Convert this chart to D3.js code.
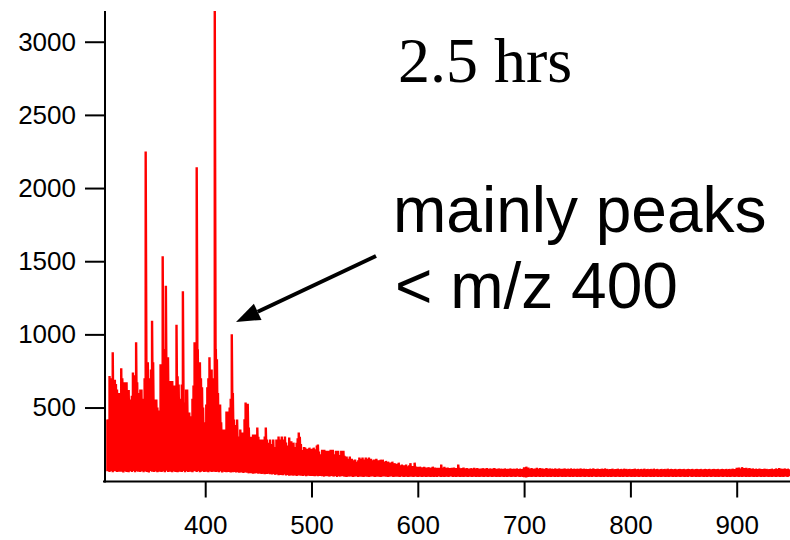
<!DOCTYPE html>
<html><head><meta charset="utf-8">
<script src="https://cdn.jsdelivr.net/npm/d3@7"></script>
<style>body{margin:0;background:#fff}</style>
</head><body><svg id="c" width="790" height="540"></svg>
<script>
const mzStart = 308;
const upper = [
418,420,716,700,650,877,658,690,660,624,578,600,
560,768,700,672,640,672,672,590,620,555,
540,580,740,720,700,946,672,600,544,624,
624,500,560,700,2250,650,810,620,700,760,
1093,810,555,418,555,500,480,453,796,700,
1534,900,820,1333,624,843,650,681,600,681,
600,650,418,1065,713,658,487,560,658,1294,
535,507,624,624,441,466,370,441,560,650,
946,784,2142,898,809,809,700,638,500,400,
370,520,638,700,843,693,760,700,693,3210,
900,830,600,466,520,400,350,302,350,302,
473,418,473,500,560,1001,600,418,350,380,
418,302,302,350,281,330,302,420,535,480,
526,363,281,300,281,315,280,315,250,363,
300,281,281,250,281,260,302,363,281,260,
240,281,250,240,281,212,230,281,260,302,
281,240,302,281,250,302,260,240,212,295,
247,270,233,260,212,230,260,290,330,300,
250,210,200,230,226,210,219,200,226,212,
219,200,226,190,215,240,247,200,180,165,
212,190,212,180,205,190,205,170,212,195,
212,180,160,205,190,205,175,165,205,180,
205,170,160,165,150,140,165,130,150,140,
130,145,130,125,140,158,130,150,158,145,
140,158,150,135,158,130,150,140,130,145,
130,150,125,140,130,144,120,144,130,120,
135,115,130,110,125,115,130,110,120,105,
115,110,123,105,98,110,96,105,100,110,
96,98,105,120,95,100,92,123,96,89,
95,88,96,90,92,86,95,89,90,86,
92,88,85,90,96,84,90,86,88,84,
88,85,110,88,82,95,86,84,90,85,
86,82,88,84,90,82,86,84,110,88,
85,82,86,90,84,80,86,82,84,80,
85,82,84,88,80,84,86,80,82,84,
80,85,82,84,80,86,82,80,84,82,
80,84,86,80,82,78,84,80,82,78,
82,80,84,78,80,82,78,84,80,78,
82,80,78,84,80,78,82,80,78,82,
92,88,96,84,90,82,80,86,78,82,
84,80,88,78,82,86,80,84,78,82,
80,86,82,78,84,80,82,78,80,84,
78,82,80,84,78,80,82,78,84,80,
78,82,80,78,84,80,78,82,80,78,
82,78,80,84,78,80,82,78,80,76,
80,78,82,76,80,84,78,80,76,82,
78,80,76,82,78,80,84,76,80,78,
76,80,78,82,76,78,80,76,82,78,
76,80,78,76,82,78,80,76,78,80,
76,78,80,76,82,78,76,80,78,76,
80,76,78,82,76,78,80,76,78,80,
76,78,82,76,78,80,76,78,76,80,
78,76,80,78,76,82,78,76,80,78,
76,78,80,76,78,76,80,78,76,78,
80,76,78,76,80,78,76,78,80,76,
78,76,80,78,76,78,80,76,78,76,
80,78,76,78,80,76,78,76,80,78,
76,78,80,76,78,76,80,78,76,78,
80,76,78,80,76,78,82,76,80,78,
88,82,90,84,80,92,82,86,80,88,
84,80,86,82,78,84,80,78,82,80,
78,82,80,76,80,78,82,76,80,78,
76,80,78,82,76,78,80,84,76,80,
86,78,82,80,76,84,78,80,82,78
];
const lower = [
65,70,60,72,66,58,70,64,72,60,68,62,
70,62,68,56,72,64,60,70,58,66,
72,60,66,70,58,64,72,62,68,60,
66,72,58,64,70,60,68,56,66,72,
62,68,60,70,64,58,72,62,66,60,
70,64,58,68,72,60,66,62,70,58,
64,72,60,66,58,70,62,68,60,66,
72,58,64,70,60,66,62,72,58,68,
64,70,60,66,72,58,62,68,64,60,
70,62,66,58,72,64,60,68,62,70,
60,66,62,58,64,70,56,62,66,60,
58,64,60,66,56,62,58,64,60,56,
62,58,54,60,56,62,52,58,60,54,
56,50,58,52,56,48,54,50,56,52,
48,54,50,46,52,48,44,50,46,52,
48,44,50,42,46,48,40,46,44,38,
44,40,46,38,42,44,36,42,40,34,
40,36,42,34,38,40,32,38,36,40,
34,38,32,36,40,30,36,34,38,32,
36,32,38,30,34,36,30,34,32,36,
30,34,28,36,32,30,34,28,32,36,
30,28,34,32,26,30,34,28,32,30,
34,28,30,26,32,30,28,34,30,26,
32,28,30,34,26,30,32,28,30,26,
30,34,28,30,26,32,28,30,34,28,
26,30,32,28,30,26,34,28,30,32,
28,30,26,32,28,30,34,26,30,28,
32,28,30,26,30,32,28,26,30,28,
30,26,32,28,30,28,26,30,32,28,
26,30,28,32,26,30,28,30,26,32,
28,30,26,28,32,26,30,28,26,30,
32,28,26,30,28,26,32,28,30,26,
28,30,32,26,28,30,26,28,32,28,
26,30,28,26,30,28,32,26,28,30,
28,26,30,28,32,26,28,30,26,28,
30,28,26,30,28,32,26,28,30,28,
26,30,28,32,26,28,30,26,28,30,
28,26,30,28,26,32,28,30,26,28,
30,28,26,30,32,28,26,30,28,26,
24,30,22,28,26,30,28,26,30,28,
28,26,30,28,32,26,28,30,26,28,
30,28,26,30,28,26,32,28,30,26,
28,30,26,28,32,28,26,30,28,26,
30,28,32,26,28,30,26,28,30,28,
26,30,28,26,32,28,30,26,28,30,
28,26,30,28,26,30,32,28,26,30,
28,30,26,28,32,26,28,30,28,26,
30,28,26,32,28,30,26,28,30,28,
26,30,28,26,30,28,32,26,28,30,
28,26,30,28,26,32,28,30,26,28,
30,28,26,30,28,26,32,28,30,26,
28,30,26,28,32,28,26,30,28,26,
30,28,32,26,28,30,26,28,30,28,
26,30,28,26,32,28,30,26,28,30,
28,26,30,28,26,30,32,28,26,30,
28,30,26,28,32,26,28,30,28,26,
30,28,26,32,28,30,26,28,30,28,
26,30,28,26,30,28,32,26,28,30,
28,26,30,28,26,32,28,30,26,28,
30,28,26,30,28,26,32,28,30,26,
28,30,26,28,32,28,26,30,28,26,
30,28,32,26,28,30,26,28,30,28,
26,30,28,26,32,28,30,26,28,30,
28,26,30,28,26,30,32,28,26,30
];
const xTicks = [400, 500, 600, 700, 800, 900];
const yTicks = [500, 1000, 1500, 2000, 2500, 3000];
const xDomain = [305.5, 950];
const yDomain = [0, 3210];
const titleText = "2.5 hrs";
const noteLines = ["mainly peaks", "< m/z 400"];

const svg = d3.select("#c");
const x = d3.scaleLinear().domain(xDomain).range([104.75, 789.85]);
const y = d3.scaleLinear().domain(yDomain).range([480.7, 11]);

svg.append("defs").append("clipPath").attr("id", "plot")
  .append("rect").attr("x", 105).attr("y", 11).attr("width", 686).attr("height", 471);

const pts = [];
upper.forEach((u, i) => {
  const mz = mzStart + i;
  pts.push([mz, lower[i]]);
  pts.push([mz, u]);
});
const line = d3.line().x(d => x(d[0])).y(d => y(d[1]));
svg.append("path").attr("d", line(pts))
  .attr("clip-path", "url(#plot)")
  .attr("fill", "none").attr("stroke", "#ff0000").attr("stroke-width", 2.4);

const font = "'Liberation Sans', Arial, Helvetica, sans-serif";
const yAxis = svg.append("g").attr("transform", "translate(105,0)")
  .call(d3.axisLeft(y).tickValues(yTicks).tickSize(20).tickSizeOuter(0).tickPadding(9).tickFormat(d3.format("d")));
const xAxis = svg.append("g").attr("transform", "translate(0,481.5)")
  .call(d3.axisBottom(x).tickValues(xTicks).tickSize(16).tickSizeOuter(0).tickPadding(18).tickFormat(d3.format("d")));
[yAxis, xAxis].forEach(g => {
  g.selectAll("path.domain").attr("stroke", "#000").attr("stroke-width", 2);
  g.selectAll(".tick line").attr("stroke", "#000").attr("stroke-width", 2);
  g.selectAll(".tick text").attr("fill", "#000").style("font-family", font).style("font-size", "26px");
});
yAxis.select("path.domain").attr("d", "M0,482.5V11");
xAxis.select("path.domain").attr("d", "M103,0H790");

svg.append("text").attr("x", 398).attr("y", 82)
  .style("font-family", "'Liberation Serif', 'Times New Roman', serif").style("font-size", "64px")
  .attr("fill", "#000").text(titleText);
noteLines.forEach((t, i) => {
  svg.append("text").attr("x", 393 + i * 2).attr("y", 232 + i * 76)
    .style("font-family", font).style("font-size", "64px").attr("fill", "#000").text(t);
});

const ax0 = [376, 256], tip = [236, 322];
const dx = tip[0] - ax0[0], dy = tip[1] - ax0[1], L = Math.hypot(dx, dy);
const ux = dx / L, uy = dy / L, hl = 24, hw = 9;
const bx = tip[0] - hl * ux, by = tip[1] - hl * uy;
svg.append("line").attr("x1", ax0[0]).attr("y1", ax0[1]).attr("x2", bx).attr("y2", by)
  .attr("stroke", "#000").attr("stroke-width", 4);
svg.append("polygon")
  .attr("points", [[tip[0], tip[1]], [bx - uy * hw, by + ux * hw], [bx + uy * hw, by - ux * hw]].map(p => p.join(",")).join(" "))
  .attr("fill", "#000");
</script>
</body></html>
